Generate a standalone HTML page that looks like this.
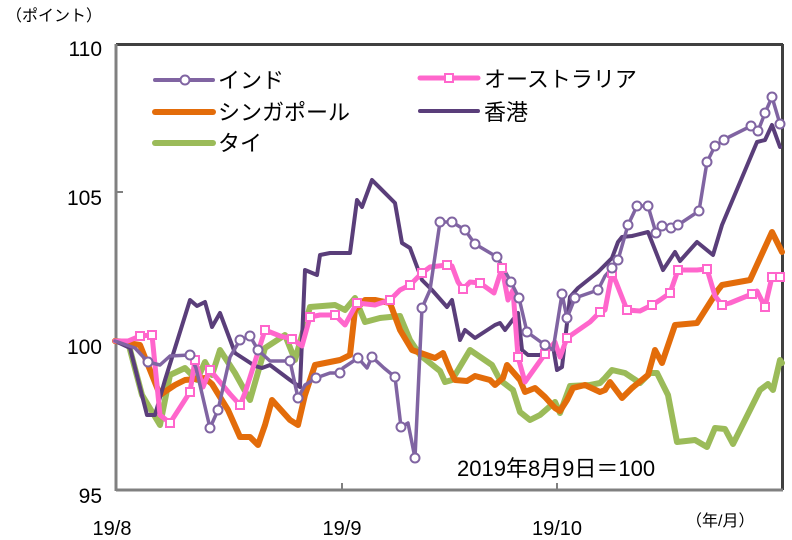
<!DOCTYPE html>
<html><head><meta charset="utf-8"><style>
html,body{margin:0;padding:0;background:#fff;}
svg{display:block;font-family:"Liberation Sans","Noto Sans CJK JP",sans-serif;}
</style></head><body>
<svg width="792" height="540" viewBox="0 0 792 540" xmlns="http://www.w3.org/2000/svg">
<rect width="792" height="540" fill="#fff"/>
<line x1="116" y1="44.5" x2="783" y2="44.5" stroke="#404040" stroke-width="3"/>
<line x1="782.5" y1="44" x2="782.5" y2="490" stroke="#404040" stroke-width="3"/>
<line x1="116" y1="44" x2="116" y2="491" stroke="#808080" stroke-width="3"/>
<line x1="116" y1="490" x2="783" y2="490" stroke="#808080" stroke-width="3"/>
<g stroke="#808080" stroke-width="2">
<line x1="116" y1="192" x2="123" y2="192"/><line x1="116" y1="341" x2="123" y2="341"/>
<line x1="342" y1="490" x2="342" y2="483"/><line x1="557" y1="490" x2="557" y2="483"/>
</g>
<g font-size="21" fill="#000" text-anchor="end">
<text x="102" y="56">110</text><text x="102" y="205">105</text>
<text x="102" y="354">100</text><text x="102" y="503">95</text>
</g>
<text x="6" y="21" font-size="16">（ポイント）</text>
<g font-size="20" text-anchor="middle">
<text x="112" y="535">19/8</text><text x="342" y="535">19/9</text><text x="557" y="535">19/10</text>
</g>
<text x="686" y="526" font-size="16">（年/月）</text>
<text x="457" y="476" font-size="22">2019年8月9日＝100</text>

<g fill="none" stroke-linejoin="round" stroke-linecap="round">
<polyline stroke="#9bbb59" stroke-width="6" points="115,341 128,342 142,395 160,425 170,375 185,368 197,380 205,362 212,375 220,350 235,373 250,400 265,348 285,335 295,360 310,307 335,305 345,310 355,298 365,322 380,318 400,316 410,340 420,355 440,371 445,382 452,380 470,350 492,365 500,380 513,390 520,412 530,420 540,415 555,402 560,413 570,386 590,385 600,383 605,378 612,370 625,373 640,383 650,373 657,373 668,395 677,442 695,440 707,447 715,428 725,429 733,444 760,390 768,384 773,390 780,360 782,363"/>
<polyline stroke="#e36c0a" stroke-width="6" points="115,341 140,345 150,370 160,395 175,385 185,380 205,378 212,384 228,410 240,437 250,437 258,445 265,425 272,400 290,420 298,425 305,395 315,365 340,360 350,355 355,310 365,300 375,300 390,303 400,330 412,350 435,358 443,353 450,370 455,380 467,381 475,376 490,380 495,385 503,378 507,365 520,380 525,392 535,388 545,397 555,408 560,411 567,400 573,388 585,385 600,392 605,390 610,382 622,398 632,388 648,375 655,350 662,363 675,325 697,323 718,290 722,285 750,280 772,232 782,252"/>
<polyline stroke="#5a3e7a" stroke-width="4" points="115,341 130,348 147,415 155,415 165,380 190,300 197,306 205,302 212,327 220,313 235,353 255,366 262,368 270,365 290,380 300,387 305,270 317,275 320,255 330,253 350,253 357,200 362,207 372,180 395,203 402,243 410,248 422,280 432,290 447,307 452,300 460,340 465,330 475,338 495,325 500,323 505,330 518,313 522,350 528,355 540,355 553,346 557,370 562,367 570,297 578,288 598,272 605,265 612,258 618,242 622,237 632,236 648,232 663,270 675,252 680,261 697,242 713,255 722,225 757,142 765,140 772,125 780,147"/>
<polyline stroke="#ff66cc" stroke-width="5" points="115,341 128,341 140,336 152,335 160,415 170,423 190,392 195,360 203,387 210,370 230,394 240,405 245,393 265,330 280,336 292,339 302,346 310,317 320,315 335,315 345,325 357,303 375,305 390,300 400,290 410,285 415,280 422,273 430,267 447,265 452,266 458,282 463,289 470,282 480,283 494,293 502,268 508,300 513,290 518,357 525,382 530,375 545,354 555,342 560,357 567,338 590,322 600,312 605,310 612,273 616,282 627,310 640,311 652,305 660,300 670,293 678,270 697,270 707,269 715,296 722,305 730,303 752,294 757,291 765,307 772,277 780,277"/>
<polyline stroke="#8064a2" stroke-width="3.5" points="115,341 135,348 148,362 160,365 170,356 190,355 196,368 210,428 218,410 230,357 240,340 250,336 258,350 270,361 290,361 298,398 305,385 316,378 330,373 340,373 343,368 358,358 367,368 372,357 384,368 395,377 401,427 408,423 415,458 422,308 430,290 440,222 452,222 465,230 475,244 497,257 511,282 519,298 527,332 545,345 553,350 562,294 567,318 575,298 598,290 605,276 612,268 618,260 628,225 637,206 648,206 656,233 662,226 671,228 678,225 699,211 707,162 715,146 724,140 729,137 751,126 758,131 765,113 772,97 780,124"/>
</g>
<g fill="#fff" stroke="#ff66cc" stroke-width="2">
<rect x="136" y="332" width="8" height="8"/><rect x="148" y="331" width="8" height="8"/><rect x="166" y="419" width="8" height="8"/><rect x="186" y="388" width="8" height="8"/><rect x="191" y="356" width="8" height="8"/><rect x="206" y="366" width="8" height="8"/><rect x="236" y="401" width="8" height="8"/><rect x="261" y="326" width="8" height="8"/><rect x="288" y="335" width="8" height="8"/><rect x="306" y="313" width="8" height="8"/><rect x="331" y="311" width="8" height="8"/><rect x="353" y="299" width="8" height="8"/><rect x="386" y="296" width="8" height="8"/><rect x="406" y="281" width="8" height="8"/><rect x="418" y="269" width="8" height="8"/><rect x="443" y="261" width="8" height="8"/><rect x="459" y="285" width="8" height="8"/><rect x="476" y="279" width="8" height="8"/><rect x="498" y="264" width="8" height="8"/><rect x="514" y="353" width="8" height="8"/><rect x="541" y="350" width="8" height="8"/><rect x="563" y="334" width="8" height="8"/><rect x="596" y="308" width="8" height="8"/><rect x="608" y="269" width="8" height="8"/><rect x="623" y="306" width="8" height="8"/><rect x="648" y="301" width="8" height="8"/><rect x="666" y="289" width="8" height="8"/><rect x="674" y="266" width="8" height="8"/><rect x="703" y="265" width="8" height="8"/><rect x="718" y="301" width="8" height="8"/><rect x="748" y="290" width="8" height="8"/><rect x="761" y="303" width="8" height="8"/><rect x="768" y="273" width="8" height="8"/><rect x="776" y="273" width="8" height="8"/>
</g>
<g fill="#fff" stroke="#8064a2" stroke-width="2">
<circle cx="148" cy="362" r="4.5"/><circle cx="190" cy="355" r="4.5"/><circle cx="210" cy="428" r="4.5"/><circle cx="218" cy="410" r="4.5"/><circle cx="240" cy="340" r="4.5"/><circle cx="250" cy="336" r="4.5"/><circle cx="258" cy="350" r="4.5"/><circle cx="290" cy="361" r="4.5"/><circle cx="298" cy="398" r="4.5"/><circle cx="316" cy="378" r="4.5"/><circle cx="340" cy="373" r="4.5"/><circle cx="358" cy="358" r="4.5"/><circle cx="372" cy="357" r="4.5"/><circle cx="395" cy="377" r="4.5"/><circle cx="401" cy="427" r="4.5"/><circle cx="415" cy="458" r="4.5"/><circle cx="422" cy="308" r="4.5"/><circle cx="440" cy="222" r="4.5"/><circle cx="452" cy="222" r="4.5"/><circle cx="465" cy="230" r="4.5"/><circle cx="475" cy="244" r="4.5"/><circle cx="497" cy="257" r="4.5"/><circle cx="511" cy="282" r="4.5"/><circle cx="519" cy="298" r="4.5"/><circle cx="527" cy="332" r="4.5"/><circle cx="545" cy="345" r="4.5"/><circle cx="562" cy="294" r="4.5"/><circle cx="567" cy="318" r="4.5"/><circle cx="575" cy="298" r="4.5"/><circle cx="598" cy="290" r="4.5"/><circle cx="612" cy="268" r="4.5"/><circle cx="618" cy="260" r="4.5"/><circle cx="628" cy="225" r="4.5"/><circle cx="637" cy="206" r="4.5"/><circle cx="648" cy="206" r="4.5"/><circle cx="656" cy="233" r="4.5"/><circle cx="662" cy="226" r="4.5"/><circle cx="671" cy="228" r="4.5"/><circle cx="678" cy="225" r="4.5"/><circle cx="699" cy="211" r="4.5"/><circle cx="707" cy="162" r="4.5"/><circle cx="715" cy="146" r="4.5"/><circle cx="724" cy="140" r="4.5"/><circle cx="751" cy="126" r="4.5"/><circle cx="758" cy="131" r="4.5"/><circle cx="765" cy="113" r="4.5"/><circle cx="772" cy="97" r="4.5"/><circle cx="780" cy="124" r="4.5"/>
</g>
<g stroke-linecap="round">
<line x1="155" y1="80" x2="213" y2="80" stroke="#8064a2" stroke-width="4"/>
<circle cx="185" cy="80" r="4.5" fill="#fff" stroke="#8064a2" stroke-width="2"/>
<line x1="155" y1="112" x2="213" y2="112" stroke="#e36c0a" stroke-width="6"/>
<line x1="155" y1="143" x2="213" y2="143" stroke="#9bbb59" stroke-width="6"/>
<line x1="420" y1="78" x2="478" y2="78" stroke="#ff66cc" stroke-width="5"/>
<rect x="445" y="74" width="8" height="8" fill="#fff" stroke="#ff66cc" stroke-width="2"/>
<line x1="420" y1="111" x2="478" y2="111" stroke="#5a3e7a" stroke-width="4"/>
</g>
<g font-size="22" fill="#000">
<text x="218" y="88">インド</text>
<text x="218" y="120">シンガポール</text>
<text x="218" y="151">タイ</text>
<text x="484" y="87">オーストラリア</text>
<text x="484" y="120">香港</text>
</g>
</svg>
</body></html>
